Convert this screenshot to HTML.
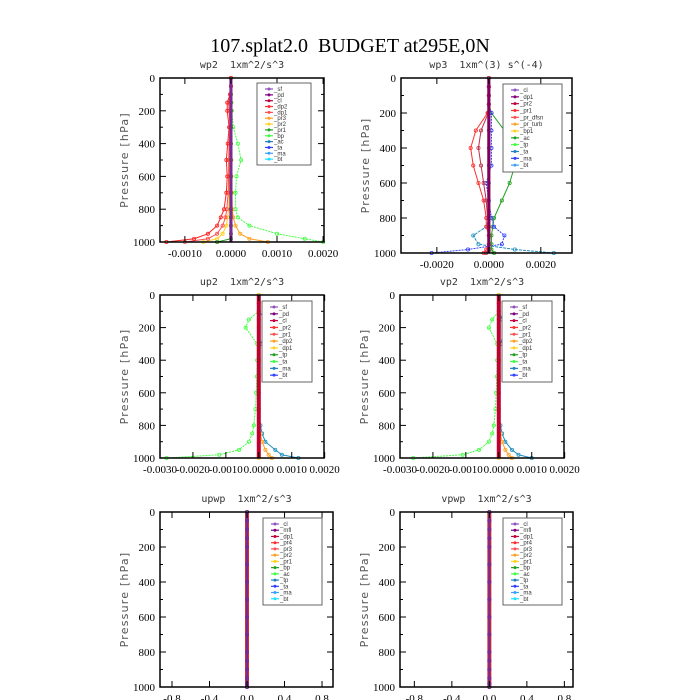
<!DOCTYPE html>
<html><head><meta charset="utf-8">
<style>
body{margin:0;background:#fff;}
svg{display:block;}
.ser{font-family:"Liberation Serif",serif;}
.st{font-family:"DejaVu Sans Mono","Liberation Mono",monospace;font-size:10px;fill:#333;white-space:pre;}
.lg{font-family:"Liberation Sans",sans-serif;font-size:6px;fill:#333;}
.yt{font-family:"DejaVu Sans","Liberation Sans",sans-serif;font-size:11px;fill:#555;letter-spacing:1.2px;}
</style></head>
<body>
<svg id="chart" width="700" height="700" viewBox="0 0 700 700" xmlns="http://www.w3.org/2000/svg">
<text class="ser" x="350" y="52" text-anchor="middle" font-size="20" style="white-space:pre">107.splat2.0  BUDGET at295E,0N</text>
</svg>
<script>
// Shared pressure levels (hPa)
const levels = [1000, 980, 950, 900, 850, 800, 700, 600, 500, 400, 300, 200, 150, 100, 50, 0];
const yTicks = [0, 200, 400, 600, 800, 1000];

// wp2 panel
const wp2Bp  = [0.0020, 0.0016, 0.0010, 0.0004, 0.00015, 0.0001, 0.0001, 0.00012, 0.00022, 0.00015, 0.00005, 0.00002, 0.00001, 0, 0, 0];
const wp2Dp1 = [-0.0014, -0.0008, -0.0005, -0.0003, -0.00022, -0.00015, -0.0001, -0.00008, -0.0001, -0.00007, -0.00004, -0.00008, -0.00008, -0.00002, 0, 0];
const wp2Dp2 = [-0.0010, -0.0005, -0.0003, -0.00018, -0.00012, -0.00009, -0.00006, -0.00005, -0.00005, -0.00004, -0.00002, -0.00004, -0.00005, -0.00001, 0, 0];
const wp2Pr3 = [0.0008, 0.0004, 0.0002, 0.0001, 0.00005, 0.00003, 0.00002, 0.00001, 0.00001, 0, 0, 0, 0, 0, 0, 0];
const wp2Pr2 = [-0.0006, -0.0003, -0.00018, -0.0001, -0.00007, -0.00005, -0.00004, -0.00004, -0.00004, -0.00003, -0.00002, -0.00001, 0, 0, 0, 0];
const wp2Pr1 = [-0.0003, 0, 0, 0, 0, 0, 0, 0, 0, 0, 0, 0, 0, 0, 0, 0];
const wp2Ticks = [-0.0010, 0.0000, 0.0010, 0.0020];
const wp2Legend = ["_sf","_pd","_cl","_dp2","_dp1","_pr3","_pr2","_pr1","_bp","_ac","_ta","_ma","_bt"];

// wp3 panel
const wp3Pr2 = [-0.0002, -0.0001, 0, 0, -0.0001, -0.0001, -0.0002, -0.0004, -0.0006, -0.0007, -0.0005, -0.00005, 0, 0, 0, 0];
const wp3Pr1 = [-0.0001, 0, 0, 0, 0, -0.00005, -0.0001, -0.0002, -0.0003, -0.0004, -0.0003, -0.00002, 0, 0, 0, 0];
const wp3Bp1 = [0.0002, 0.0001, 0.0001, 0.0001, 0.00015, 0.0002, 0.0005, 0.0008, 0.0010, 0.0009, 0.0006, 0.0001, 0, 0, 0, 0];
const wp3Ta  = [-0.0022, -0.0008, 0.0005, 0.0006, 0.0002, 0.0001, 0, -0.0001, 0.0001, 0.0001, 0.0001, 0.0001, 0, 0, 0, 0];
const wp3Tp  = [0.0025, 0.0010, -0.0004, -0.0006, -0.0001, 0, 0, 0, 0, 0, 0, 0, 0, 0, 0, 0];
const wp3Ticks = [-0.0020, 0.0000, 0.0020];
const wp3Legend = ["_cl","_dp1","_pr2","_pr1","_pr_dfsn","_pr_turb","_bp1","_ac","_tp","_ta","_ma","_bt"];

// up2 panel
const up2Dp1 = [-0.0028, -0.0012, -0.0006, -0.0003, -0.0002, -0.00015, -0.0001, -0.00008, -0.00006, -0.00005, -0.00005, -0.0004, -0.0003, 0, 0, 0];
const up2Tp  = [0.0012, 0.0007, 0.0005, 0.0002, 0.0001, 0.00005, 0, 0, 0, 0, 0.00005, 0.0003, 0.0002, 0, 0, 0];
const up2Pr2 = [0.0004, 0.0003, 0.0002, 0.0001, 0.00005, 0, 0, 0, 0, 0, 0, 0, 0, 0, 0, 0];
const up2Ticks = [-0.0030, -0.0020, -0.0010, 0.0000, 0.0010, 0.0020];
const up2Legend = ["_sf","_pd","_cl","_pr2","_pr1","_dp2","_dp1","_tp","_ta","_ma","_bt"];

// vp2 panel
const vp2Dp1 = [-0.0026, -0.0011, -0.0006, -0.0003, -0.0002, -0.00015, -0.0001, -0.00008, -0.00006, -0.00005, -0.00005, -0.0003, -0.0002, 0, 0, 0];
const vp2Tp  = [0.0010, 0.0006, 0.0004, 0.0002, 0.0001, 0.00005, 0, 0, 0, 0, 0.00005, 0.0002, 0.0001, 0, 0, 0];
const vp2Pr2 = [0.0004, 0.0003, 0.0002, 0.0001, 0.00005, 0, 0, 0, 0, 0, 0, 0, 0, 0, 0, 0];
const vp2Legend = up2Legend;

// upwp / vpwp panels
const flatZero = [0, 0, 0, 0, 0, 0, 0, 0, 0, 0, 0, 0, 0, 0, 0, 0];
const unitTicks = [-0.8, -0.4, 0.0, 0.4, 0.8];
const upwpLegend = ["_cl","_mfl","_dp1","_pr4","_pr3","_pr2","_pr1","_bp","_ac","_tp","_ta","_ma","_bt"];

const legendColors = ["#9050c0","#800080","#c00040","#ff3030","#ff5050","#ffa020","#ffd020","#20a020","#40ff40","#2080c0","#3040ff","#40a0ff","#20e0ff"];

const NS = "http://www.w3.org/2000/svg";
const svg = document.getElementById("chart");
function mk(tag, attrs, parent){ const e=document.createElementNS(NS,tag); for(const k in attrs) e.setAttribute(k,attrs[k]); (parent||svg).appendChild(e); return e; }

function panel(p){
  const g = mk("g",{});
  
  
  const xs = v => p.x0 + (v - p.d0)/(p.d1 - p.d0)*(p.x1 - p.x0);
  const ys = v => p.y0 + v/1000*(p.y1 - p.y0);
  const t = mk("text",{x:(p.x0+p.x1)/2, y:p.y0-10, "text-anchor":"middle", class:"st"}, g);
  t.textContent = p.title;
  
  
  p.series.forEach(s=>{
    const pts = levels.map((l,i)=>[xs(s.v[i]), ys(l)]);
    const pl = mk("polyline",{points:pts.map(q=>q.join(",")).join(" "), fill:"none", stroke:s.c, "stroke-width":s.w||1, "stroke-dasharray":s.dash||"none"}, g);
    
    
    if(!s.w || s.w<3){
      pts.forEach(q=>{ mk("circle",{cx:q[0], cy:q[1], r:1.6, fill:"none", stroke:s.c, "stroke-width":0.8}, g); });
    }
  });
  const fr = mk("rect",{x:p.x0, y:p.y0, width:p.x1-p.x0, height:p.y1-p.y0, fill:"none", stroke:"#000", "stroke-width":1.5}, g);
  
  
  for(let v=0; v<=1000; v+=100){
    const y = ys(v), len = v%200===0?6:3;
    mk("line",{x1:p.x0,x2:p.x0+len,y1:y,y2:y,stroke:"#000"},g);
    mk("line",{x1:p.x1,x2:p.x1-len,y1:y,y2:y,stroke:"#000"},g);
  }
  yTicks.forEach(v=>{
    const tt = mk("text",{x:p.x0-5, y:ys(v)+4, "text-anchor":"end", "font-size":11, class:"ser"}, g);
    tt.textContent = v;
    
    
  });
  p.xt.forEach(v=>{
    const x = xs(v);
    mk("line",{x1:x,x2:x,y1:p.y1,y2:p.y1-6,stroke:"#000"},g);
    mk("line",{x1:x,x2:x,y1:p.y0,y2:p.y0+6,stroke:"#000"},g);
    const tt = mk("text",{x:x, y:p.y1+15, "text-anchor":"middle", "font-size":11, class:"ser"}, g);
    tt.textContent = v.toFixed(p.dec);
    
    
  });
  const yl = mk("text",{x:0,y:0,transform:`translate(${p.x0-32},${(p.y0+p.y1)/2}) rotate(-90)`, "text-anchor":"middle", class:"yt"}, g);
  yl.textContent = "Pressure [hPa]";
  
  
  const L = p.leg;
  const lb = mk("rect",{x:L.x, y:L.y, width:L.w, height:L.h, fill:"#fff", stroke:"#666", "stroke-width":1}, g);
  
  
  const step = (L.h-6)/p.legend.length;
  p.legend.forEach((n,i)=>{
    const y = L.y + 6 + step*i;
    const c = legendColors[i % legendColors.length];
    mk("line",{x1:L.x+8,x2:L.x+16,y1:y,y2:y,stroke:c,"stroke-width":1.2},g);
    mk("circle",{cx:L.x+12,cy:y,r:1.5,fill:c},g);
    const tt = mk("text",{x:L.x+17, y:y+2, class:"lg"}, g);
    tt.textContent = n;
    
    
  });
}

panel({name:"wp2-panel", title:"wp2  1xm^2/s^3", x0:160,x1:324,y0:78,y1:242, d0:-0.00154, d1:0.00202, xt:wp2Ticks, dec:4,
  leg:{x:257,y:83,w:54,h:82}, legend:wp2Legend,
  series:[{v:wp2Bp,c:"#40ff40",dash:"2,1"},{v:wp2Pr3,c:"#ffa020"},{v:wp2Pr2,c:"#ffd020"},{v:wp2Pr1,c:"#20a020"},{v:wp2Dp2,c:"#ff5050"},{v:wp2Dp1,c:"#ff2020"},{v:flatZero,c:"#c00040",w:3},{v:flatZero,c:"#7a2a90",w:3}]});

panel({name:"wp3-panel", title:"wp3  1xm^(3) s^(-4)", x0:401,x1:572,y0:78,y1:253, d0:-0.00338, d1:0.0032, xt:wp3Ticks, dec:4,
  leg:{x:503,y:84,w:59,h:88}, legend:wp3Legend,
  series:[{v:wp3Bp1,c:"#20a020"},{v:wp3Ta,c:"#3040ff",dash:"2,1"},{v:wp3Tp,c:"#2090c0",dash:"3,1"},{v:wp3Pr2,c:"#ff3030"},{v:wp3Pr1,c:"#c03050"},{v:flatZero,c:"#c05020",w:3},{v:flatZero,c:"#800060",w:3}]});

panel({name:"up2-panel", title:"up2  1xm^2/s^3", x0:160,x1:324,y0:295,y1:458, d0:-0.0030, d1:0.00198, xt:up2Ticks, dec:4,
  leg:{x:262,y:301,w:50,h:81}, legend:up2Legend,
  series:[{v:up2Dp1,c:"#40ff40",dash:"2,1"},{v:up2Tp,c:"#2090c0"},{v:up2Pr2,c:"#ffa020"},{v:flatZero,c:"#ffd020",w:2},{v:flatZero,c:"#c00030",w:4}]});

panel({name:"vp2-panel", title:"vp2  1xm^2/s^3", x0:400,x1:564,y0:295,y1:458, d0:-0.0030, d1:0.00198, xt:up2Ticks, dec:4,
  leg:{x:502,y:301,w:50,h:81}, legend:vp2Legend,
  series:[{v:vp2Dp1,c:"#40ff40",dash:"2,1"},{v:vp2Tp,c:"#2090c0"},{v:vp2Pr2,c:"#ffa020"},{v:flatZero,c:"#ffd020",w:2},{v:flatZero,c:"#c00030",w:4}]});

panel({name:"upwp-panel", title:"upwp  1xm^2/s^3", x0:160,x1:333,y0:512,y1:687, d0:-0.928, d1:0.917, xt:unitTicks, dec:1,
  leg:{x:263,y:518,w:59,h:87}, legend:upwpLegend,
  series:[{v:flatZero,c:"#d03030",w:4},{v:flatZero,c:"#7a2a90",w:2},{v:flatZero,c:"#7a2a90"}]});

panel({name:"vpwp-panel", title:"vpwp  1xm^2/s^3", x0:400,x1:573,y0:512,y1:687, d0:-0.953, d1:0.892, xt:unitTicks, dec:1,
  leg:{x:503,y:518,w:59,h:87}, legend:upwpLegend,
  series:[{v:flatZero,c:"#d03030",w:4},{v:flatZero,c:"#7a2a90",w:2},{v:flatZero,c:"#7a2a90"}]});
</script>
</body></html>
